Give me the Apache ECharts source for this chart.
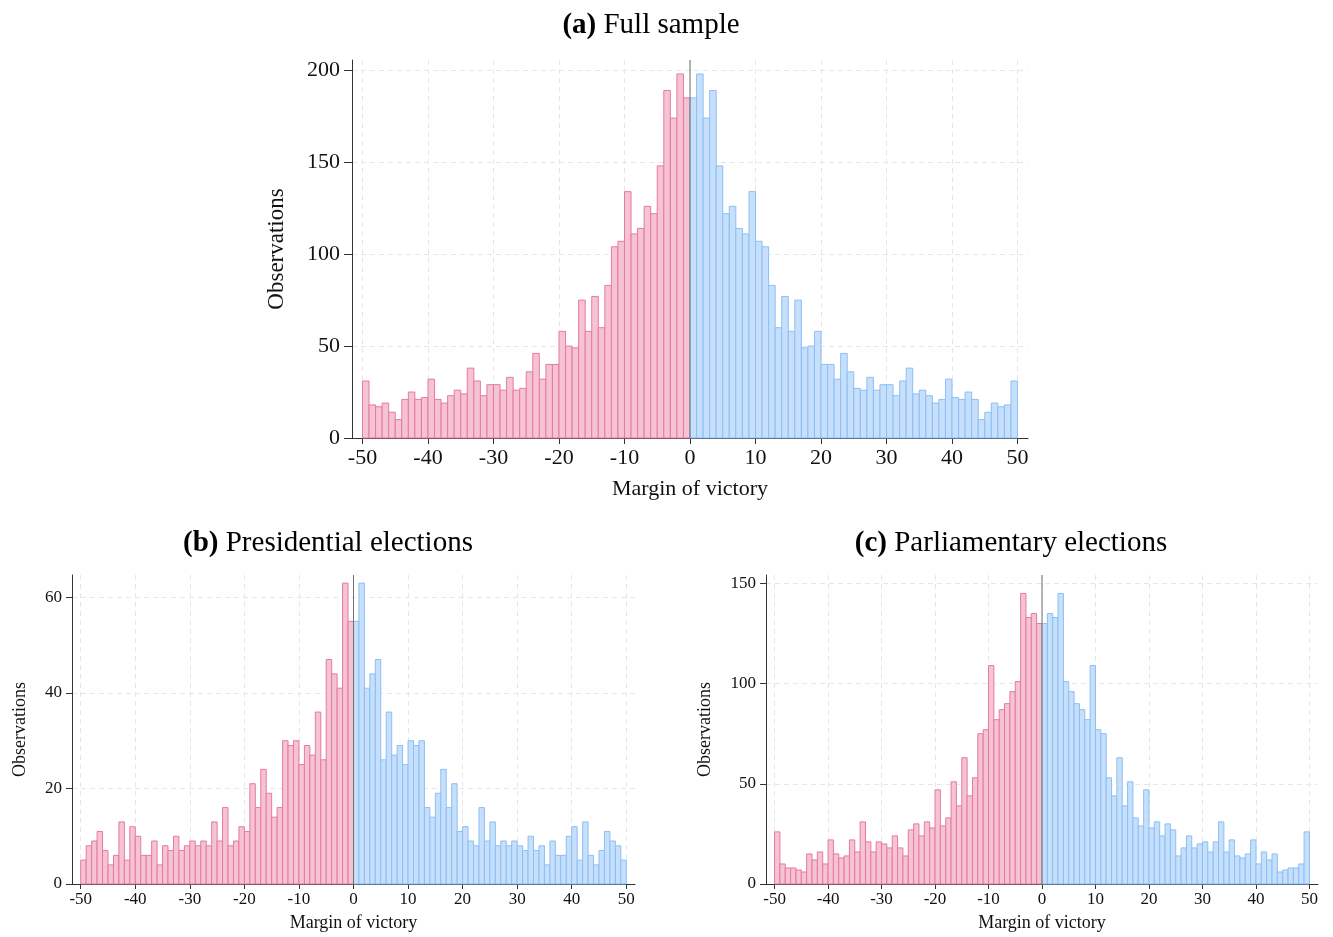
<!DOCTYPE html>
<html>
<head>
<meta charset="utf-8">
<script src="https://cdn.jsdelivr.net/npm/echarts@6/dist/echarts.min.js"></script>
<style>
  html, body { margin: 0; padding: 0; background: #ffffff; }
  #chart { width: 1333px; height: 937px; }
</style>
</head>
<body>
<div id="chart"></div>
<script>
// Histogram bins of width 1 (percentage points): left edges.
const lossBins = [-50,-49,-48,-47,-46,-45,-44,-43,-42,-41,-40,-39,-38,-37,-36,-35,-34,-33,-32,-31,
                  -30,-29,-28,-27,-26,-25,-24,-23,-22,-21,-20,-19,-18,-17,-16,-15,-14,-13,-12,-11,
                  -10,-9,-8,-7,-6,-5,-4,-3,-2,-1];
const winBins = [0,1,2,3,4,5,6,7,8,9,10,11,12,13,14,15,16,17,18,19,
                 20,21,22,23,24,25,26,27,28,29,30,31,32,33,34,35,36,37,38,39,
                 40,41,42,43,44,45,46,47,48,49];
const BIN_WIDTH = 1;

// (a) Full sample
const fullLoss = [31,18,17,19,14,10,21,25,21,22,32,21,19,23,26,24,38,31,23,29,
                  29,26,33,26,27,36,46,32,40,40,58,50,49,75,58,77,60,83,104,107,
                  134,111,114,126,122,148,189,174,198,185];
const fullWin  = [185,198,174,189,148,122,126,114,111,134,107,104,83,60,77,58,75,49,50,58,
                  40,40,32,46,36,27,26,33,26,29,29,23,31,38,24,26,23,19,21,32,
                  22,21,25,21,10,14,19,17,18,31];

// (b) Presidential elections
const presLoss = [5,8,9,11,7,4,6,13,5,12,10,6,6,9,4,8,7,10,7,8,
                  9,8,9,8,13,9,16,8,9,12,11,21,16,24,19,14,16,30,29,30,
                  25,29,27,36,26,47,44,41,63,55];
const presWin  = [55,63,41,44,47,26,36,27,29,25,30,29,30,16,14,19,24,16,21,11,
                  12,9,8,16,9,13,8,9,8,9,8,7,10,7,8,4,9,6,6,10,
                  12,5,13,6,4,7,11,9,8,5];

// (c) Parliamentary elections
const parlLoss = [26,10,8,8,7,6,15,12,16,10,22,15,13,14,22,16,31,21,16,21,
                  20,18,24,18,14,27,30,24,31,28,47,29,33,51,39,63,44,53,75,77,
                  109,82,87,90,96,101,145,133,135,130];
const parlWin  = [130,135,133,145,101,96,90,87,82,109,77,75,53,44,63,39,51,33,29,47,
                  28,31,24,30,27,14,18,24,18,20,21,16,21,31,16,22,14,13,15,22,
                  10,16,12,15,6,7,8,8,10,26];

// Tick labels
const xTicks = [-50,-40,-30,-20,-10,0,10,20,30,40,50];
const yTicksFull = [0,50,100,150,200];
const yTicksPres = [0,20,40,60];
const yTicksParl = [0,50,100,150];

const X_EXTENT = 51.6;
const SERIF = '"Liberation Serif", "DejaVu Serif", serif';
const PINK_FILL = '#f6c3d5', PINK_EDGE = '#e57aa0';
const BLUE_FILL = '#c6dffb', BLUE_EDGE = '#8cbff5';

function pairs(bins, vals) { return bins.map((b, i) => [b, vals[i]]); }

function histSeries(idx, bins, vals, fill, edge) {
  return {
    type: 'custom',
    xAxisIndex: idx, yAxisIndex: idx,
    data: pairs(bins, vals),
    encode: { x: 0, y: 1 },
    silent: true,
    z: 2,
    renderItem: function (params, api) {
      const x0 = api.value(0), v = api.value(1);
      const p0 = api.coord([x0, 0]);
      const p1 = api.coord([x0 + BIN_WIDTH, v]);
      return {
        type: 'rect',
        shape: { x: p0[0], y: p1[1], width: p1[0] - p0[0], height: p0[1] - p1[1] },
        style: { fill: fill, stroke: edge, lineWidth: 1 }
      };
    }
  };
}

function zeroLine(idx, yMax) {
  return {
    type: 'line', xAxisIndex: idx, yAxisIndex: idx,
    data: [[0, 0], [0, yMax]], symbol: 'none', silent: true, z: 5,
    lineStyle: { color: '#6f6f6f', width: 1 }
  };
}

const gridLine = { show: true, lineStyle: { color: '#e6e6e6', width: 1, type: [5, 4] } };

function xAxis(idx, fs, nameFs, nameGap, tickLen, margin) {
  return {
    type: 'value', gridIndex: idx, min: -X_EXTENT, max: X_EXTENT,
    axisLine: { show: true, onZero: false, lineStyle: { color: '#333', width: 1 } },
    axisTick: { show: true, length: tickLen, customValues: xTicks, lineStyle: { color: '#333' } },
    axisLabel: { customValues: xTicks, fontFamily: SERIF, fontSize: fs, color: '#111', margin: margin },
    splitLine: gridLine,
    name: 'Margin of victory', nameLocation: 'middle', nameGap: nameGap,
    nameTextStyle: { fontFamily: SERIF, fontSize: nameFs, color: '#111' }
  };
}

function yAxis(idx, ticks, yMax, fs, nameFs, nameGap, tickLen, margin) {
  return {
    type: 'value', gridIndex: idx, min: 0, max: yMax,
    axisLine: { show: true, onZero: false, lineStyle: { color: '#333', width: 1 } },
    axisTick: { show: true, length: tickLen, customValues: ticks, lineStyle: { color: '#333' } },
    axisLabel: { customValues: ticks, fontFamily: SERIF, fontSize: fs, color: '#111', margin: margin },
    splitLine: gridLine,
    name: 'Observations', nameLocation: 'middle', nameGap: nameGap,
    nameTextStyle: { fontFamily: SERIF, fontSize: nameFs, color: '#111' }
  };
}

function panelTitle(tag, text, cx, top) {
  return {
    text: '{b|' + tag + '} ' + text,
    left: cx, top: top, textAlign: 'center',
    textStyle: {
      fontFamily: SERIF, fontSize: 29, fontWeight: 'normal', color: '#000',
      rich: { b: { fontFamily: SERIF, fontSize: 29, fontWeight: 'bold', color: '#000' } }
    }
  };
}

const Y_MAX_FULL = 205.6, Y_MAX_PRES = 64.7, Y_MAX_PARL = 154.2;

const chart = echarts.init(document.getElementById('chart'), null, { renderer: 'canvas' });
chart.setOption({
  backgroundColor: '#ffffff',
  animation: false,
  title: [
    panelTitle('(a)', 'Full sample', 646, 6),
    panelTitle('(b)', 'Presidential elections', 323, 524),
    panelTitle('(c)', 'Parliamentary elections', 1006, 524)
  ],
  grid: [
    { left: 352, top: 60, width: 676, height: 378 },
    { left: 72, top: 575, width: 563, height: 309 },
    { left: 766, top: 575, width: 552, height: 309 }
  ],
  xAxis: [
    xAxis(0, 22, 22, 40, 6, 9),
    xAxis(1, 17, 18, 30, 5, 7),
    xAxis(2, 17, 18, 30, 5, 7)
  ],
  yAxis: [
    yAxis(0, yTicksFull, Y_MAX_FULL, 22, 23, 64, 8, 12),
    yAxis(1, yTicksPres, Y_MAX_PRES, 17, 18, 43, 6, 10),
    yAxis(2, yTicksParl, Y_MAX_PARL, 17, 18, 52, 6, 10)
  ],
  series: [
    histSeries(0, lossBins, fullLoss, PINK_FILL, PINK_EDGE),
    histSeries(0, winBins, fullWin, BLUE_FILL, BLUE_EDGE),
    zeroLine(0, Y_MAX_FULL),
    histSeries(1, lossBins, presLoss, PINK_FILL, PINK_EDGE),
    histSeries(1, winBins, presWin, BLUE_FILL, BLUE_EDGE),
    zeroLine(1, Y_MAX_PRES),
    histSeries(2, lossBins, parlLoss, PINK_FILL, PINK_EDGE),
    histSeries(2, winBins, parlWin, BLUE_FILL, BLUE_EDGE),
    zeroLine(2, Y_MAX_PARL)
  ]
});
</script>
</body>
</html>
